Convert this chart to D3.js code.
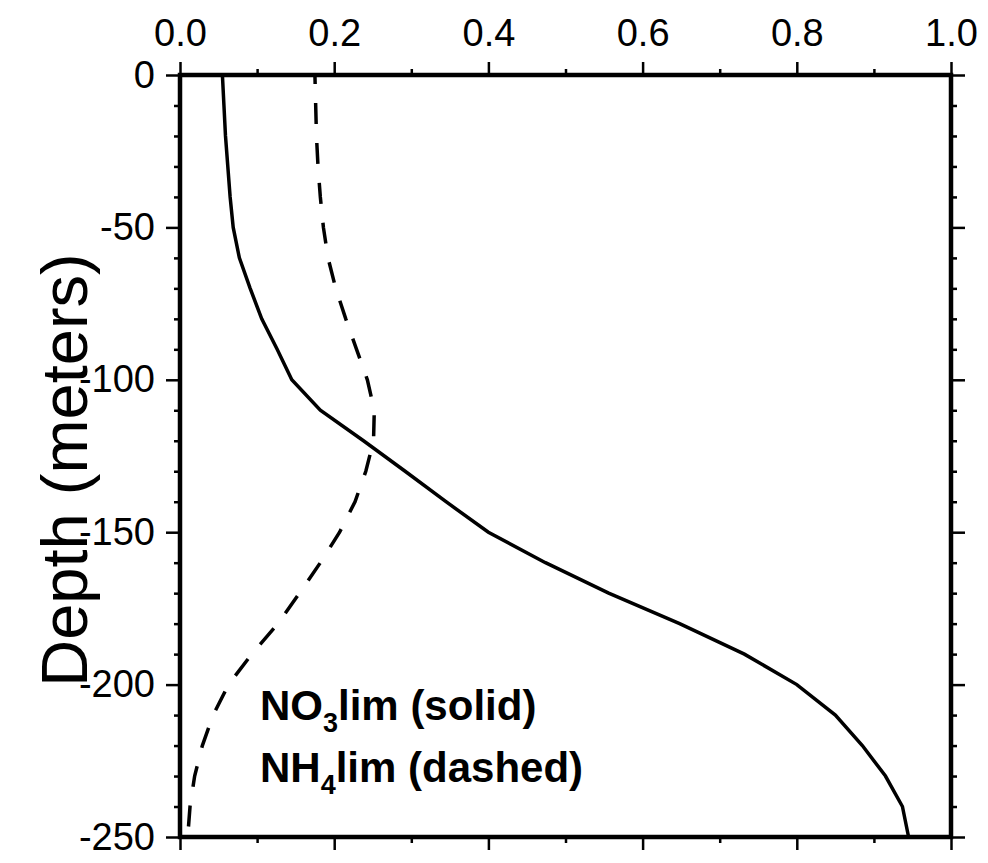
<!DOCTYPE html>
<html>
<head>
<meta charset="utf-8">
<script src="https://cdn.jsdelivr.net/npm/d3@7"></script>
<style>
body { margin: 0; background: #fff; }
svg { display: block; }
</style>
</head>
<body>
<script>
"use strict";

// depth (m) every 10 m
let depths = [0, -10, -20, -30, -40, -50, -60, -70, -80, -90, -100, -110, -120,
    -130, -140, -150, -160, -170, -180, -190, -200, -210, -220, -230, -240, -250];
// NO3 limitation (solid)
let no3lim = [0.055, 0.057, 0.059, 0.062, 0.065, 0.069, 0.077, 0.091, 0.106, 0.126, 0.145, 0.182, 0.238,
    0.292, 0.345, 0.400, 0.474, 0.556, 0.648, 0.732, 0.800, 0.850, 0.885, 0.915, 0.937, 0.945];
// NH4 limitation (dashed)
let nh4lim = [0.175, 0.176, 0.177, 0.179, 0.182, 0.186, 0.192, 0.202, 0.215, 0.229, 0.243, 0.252, 0.251,
    0.241, 0.227, 0.207, 0.182, 0.155, 0.127, 0.093, 0.063, 0.043, 0.029, 0.019, 0.013, 0.010];

let xTicks = [0, 0.2, 0.4, 0.6, 0.8, 1.0];
let xMinor = [0.1, 0.3, 0.5, 0.7, 0.9];
let yTicks = [0, -50, -100, -150, -200, -250];
let yMinor = d3.range(0, -251, -10).filter(function (d) { return d % 50 !== 0; });

let w = 988, h = 863;
let pLeft = 180, pRight = 951, pTop = 75, pBottom = 837;

let svg = d3.select("body").append("svg")
    .attr("width", w)
    .attr("height", h)
    .style("font-family", "'Liberation Sans', Arial, Helvetica, sans-serif");

let x = d3.scaleLinear().domain([0, 1]).range([pLeft, pRight]);
let y = d3.scaleLinear().domain([0, -250]).range([pTop, pBottom]);

//axes: minor ticks first, then major ticks with labels
function styleAxis(g, labels) {
    g.select(".domain").remove();
    g.attr("font-family", null).attr("font-size", null);
    g.selectAll(".tick line").attr("stroke", "#000").attr("stroke-width", 2.5);
    g.selectAll(".tick text")
        .attr("fill", "#000")
        .style("font-size", "38px");
    if (!labels) g.selectAll(".tick text").remove();
}

svg.append("g").attr("transform", "translate(0," + pTop + ")")
    .call(d3.axisTop(x).tickValues(xMinor).tickSize(6))
    .call(styleAxis, false);
svg.append("g").attr("transform", "translate(0," + pTop + ")")
    .call(d3.axisTop(x).tickValues(xTicks).tickSize(13).tickPadding(16).tickFormat(d3.format(".1f")))
    .call(styleAxis, true);

svg.append("g").attr("transform", "translate(0," + pBottom + ")")
    .call(d3.axisBottom(x).tickValues(xMinor).tickSize(6))
    .call(styleAxis, false);
svg.append("g").attr("transform", "translate(0," + pBottom + ")")
    .call(d3.axisBottom(x).tickValues(xTicks).tickSize(13))
    .call(styleAxis, false);

svg.append("g").attr("transform", "translate(" + pLeft + ",0)")
    .call(d3.axisLeft(y).tickValues(yMinor).tickSize(6))
    .call(styleAxis, false);
svg.append("g").attr("transform", "translate(" + pLeft + ",0)")
    .call(d3.axisLeft(y).tickValues(yTicks).tickSize(14).tickPadding(11).tickFormat(d3.format("d")))
    .call(styleAxis, true);

svg.append("g").attr("transform", "translate(" + pRight + ",0)")
    .call(d3.axisRight(y).tickValues(yMinor).tickSize(6))
    .call(styleAxis, false);
svg.append("g").attr("transform", "translate(" + pRight + ",0)")
    .call(d3.axisRight(y).tickValues(yTicks).tickSize(14))
    .call(styleAxis, false);

// the "-" in tick labels is a plain hyphen in the figure
svg.selectAll(".tick text").text(function () { return d3.select(this).text().replace("\u2212", "-"); });

//frame
svg.append("rect")
    .attr("x", pLeft)
    .attr("y", pTop)
    .attr("width", pRight - pLeft)
    .attr("height", pBottom - pTop)
    .attr("fill", "none")
    .attr("stroke", "#000")
    .attr("stroke-width", 4.5);

let line = function (vals) {
    return d3.line()
        .x(function (d, i) { return x(vals[i]); })
        .y(function (d) { return y(d); })(depths);
};

svg.append("path")
    .attr("d", line(no3lim))
    .attr("fill", "none")
    .attr("stroke", "#000")
    .attr("stroke-width", 3.5);

svg.append("path")
    .attr("d", line(nh4lim))
    .attr("fill", "none")
    .attr("stroke", "#000")
    .attr("stroke-width", 3.5)
    .attr("stroke-dasharray", "21,19")
    .attr("stroke-dashoffset", 12);

//y title
svg.append("text")
    .attr("transform", "translate(87,470) rotate(-90)")
    .attr("text-anchor", "middle")
    .style("font-size", "65px")
    .text("Depth (meters)");

//legend
let legend = [["NO", "3", "lim (solid)"], ["NH", "4", "lim (dashed)"]];
svg.selectAll(".legend")
    .data(legend)
    .enter()
    .append("text")
    .attr("class", "legend")
    .attr("x", 260)
    .attr("y", function (d, i) { return 720 + i * 62; })
    .style("font-size", "42px")
    .style("font-weight", "bold")
    .each(function (d) {
        let t = d3.select(this);
        t.append("tspan").text(d[0]);
        t.append("tspan").attr("dy", 12).style("font-size", "27px").text(d[1]);
        t.append("tspan").attr("dy", -12).text(d[2]);
    });
</script>
</body>
</html>
